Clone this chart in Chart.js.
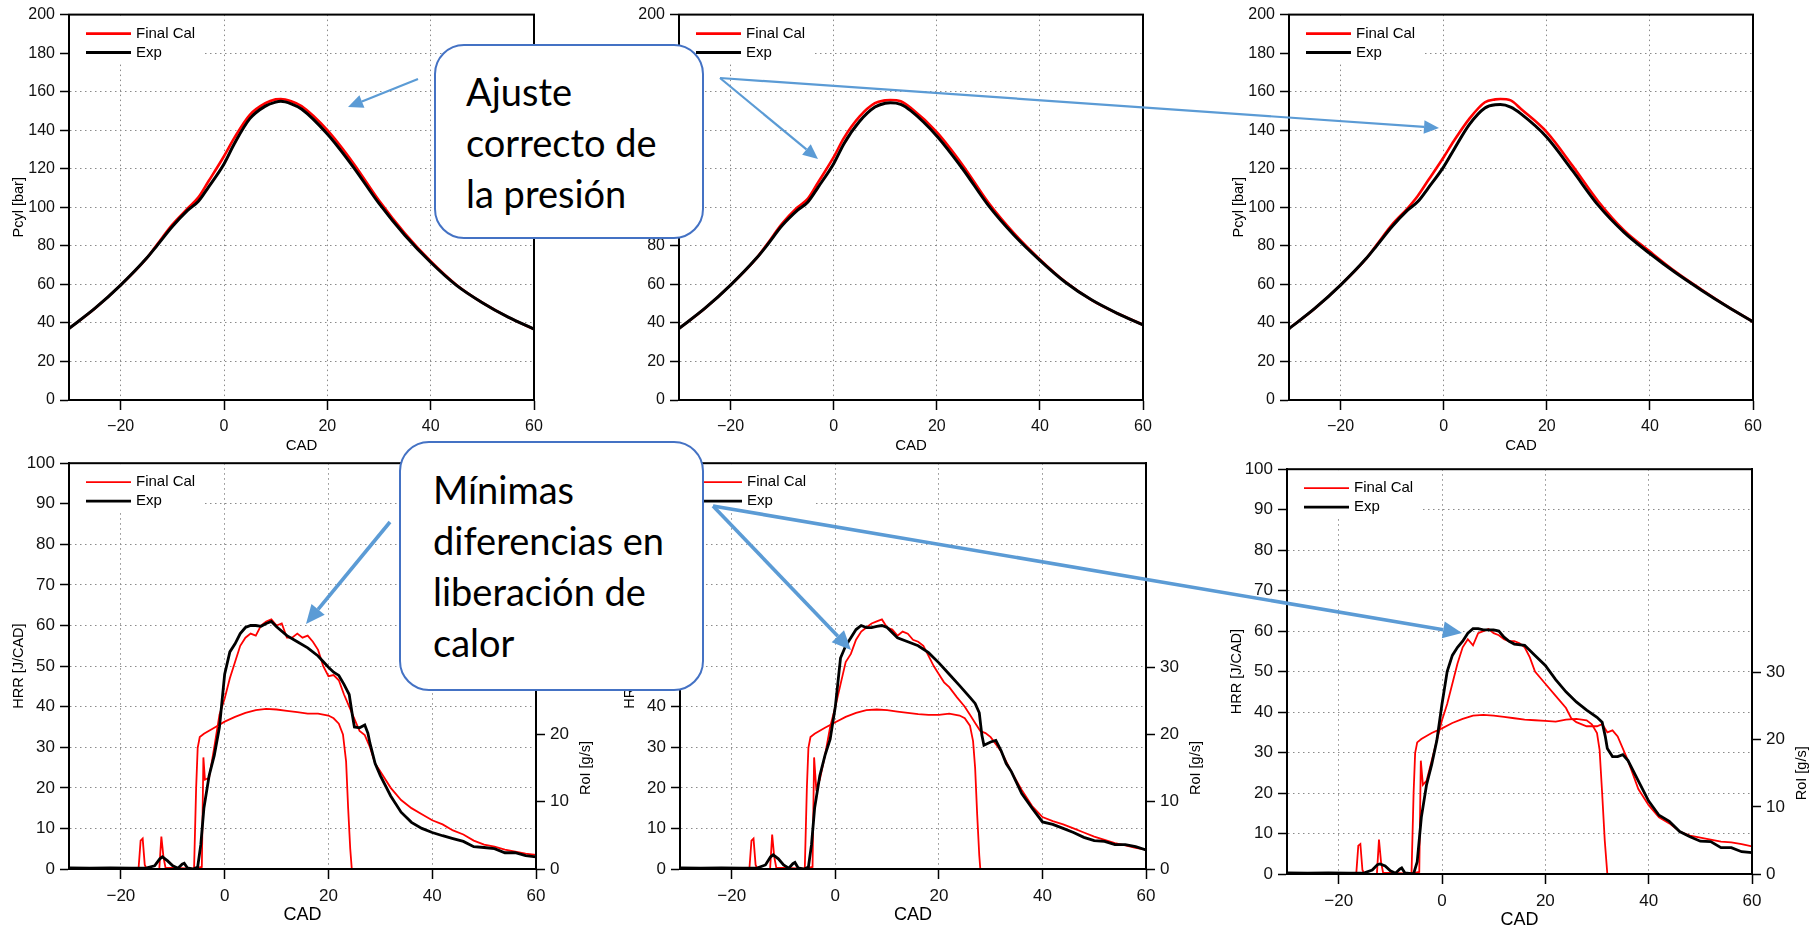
<!DOCTYPE html>
<html>
<head>
<meta charset="utf-8">
<script src="https://cdn.jsdelivr.net/npm/chart.js@4.4.0/dist/chart.umd.min.js"></script>
<style>
html, body { margin: 0; padding: 0; background: #fff; width: 1820px; height: 927px; overflow: hidden; position: relative; }
canvas { position: absolute; }
.callout { position: absolute; box-sizing: border-box; border: 2px solid #4472C4; border-radius: 30px; background: #fff;
  font-family: Lato, "Noto Sans", sans-serif; font-size: 38px; line-height: 51px; color: #000; white-space: nowrap; }
#arrows { position: absolute; left: 0; top: 0; }
</style>
</head>
<body>
<canvas id="pA" width="554" height="456" style="left:0px;top:0px"></canvas>
<canvas id="pB" width="553" height="456" style="left:610px;top:0px"></canvas>
<canvas id="pC" width="553" height="456" style="left:1220px;top:0px"></canvas>
<canvas id="hD" width="606" height="479" style="left:0px;top:448px"></canvas>
<canvas id="hE" width="605" height="479" style="left:611px;top:448px"></canvas>
<canvas id="hF" width="604" height="478" style="left:1218px;top:454px"></canvas>
<svg id="arrows" width="1820" height="927"></svg>
<div class="callout" style="left:434px;top:44px;width:270px;height:195px;padding:20px 0 0 30px">Ajuste<br>correcto de<br>la presión</div>
<div class="callout" style="left:399px;top:441px;width:305px;height:250px;padding:21px 0 0 32px">Mínimas<br>diferencias en<br>liberación de<br>calor</div>
<script>
// labels
const calLabel = 'Final Cal';
const expLabel = 'Exp';
const xTicks = [-20, 0, 20, 40, 60];
const roiTicks = [0, 10, 20, 30];

// cylinder pressure [bar] vs CAD (top row)
const cadP = [-30, -25, -20, -15, -13, -10, -7, -5, -3, 0, 2, 5, 8, 10, 11, 13, 15, 20, 25, 30, 35, 40, 45, 50, 55, 60];
const pCalA = [37.1, 47.5, 59.6, 73.5, 80.5, 91, 99.5, 105, 113.5, 126.5, 136, 148, 154, 156, 156.2, 155, 152.5, 140, 123, 103.5, 86.5, 72, 59.7, 50.5, 43, 36.8];
const pExpA = [37.1, 47.5, 59.6, 73.5, 80, 90, 98.5, 103, 110.5, 122.5, 133, 146, 152.5, 154.6, 155, 153.7, 151, 138, 121, 102, 85.5, 71.5, 59.5, 50.5, 43, 36.8];
const pCalB = [37.1, 47.5, 59.6, 73.5, 80.5, 91.5, 100, 104.5, 113, 126, 136, 147, 154, 155.5, 155.7, 155, 151.5, 139, 122, 102.5, 86.5, 73, 61.2, 52, 45, 39];
const pExpB = [37.1, 47.5, 59.6, 73.5, 80, 90.5, 98.5, 102.8, 110.5, 122.6, 133, 144.5, 152, 154, 154.2, 153.4, 150, 137, 120, 101, 85.5, 72.5, 61, 52, 45, 39];
const pCalC = [37, 47.5, 59.6, 73.5, 80.5, 91, 99.5, 106, 114, 126, 134.5, 146, 154.5, 156, 156.2, 155.5, 151, 139, 121.5, 103, 88, 77, 66.5, 57.3, 48.6, 40.6];
const pExpC = [37, 47.5, 59.6, 73.5, 80, 90, 98.5, 103, 110, 121, 130, 143, 151.5, 153.2, 153.3, 152, 148.5, 136.4, 119, 101, 87, 76, 66, 57, 48.5, 40.6];

// heat release rate [J/CAD] and rate of injection [g/s] vs CAD (bottom row)
const hrrCalD = [[-30, 0], [-16.6, 0], [-16.2, 7], [-15.8, 7.5], [-15.4, 1], [-15, 0], [-12.6, 0], [-12.2, 8], [-11.8, 3], [-11.4, 0.3], [-10, 0.3], [-6, 0.1], [-4.4, 0.5], [-4.1, 27.5], [-3.8, 22], [-3, 22.5], [-2, 30], [-1, 38], [0, 42], [1, 47], [2, 51], [3, 55], [4, 57], [5, 58], [6, 57.5], [7, 60], [8, 61], [9, 61.5], [10, 60], [11, 60.5], [12, 57], [13, 57], [14, 58], [15, 57], [16, 57.5], [17, 56], [18, 54], [19, 50], [20, 47.5], [21, 47.8], [22, 46.5], [23, 43], [24, 40], [25, 37], [26, 34], [27, 33], [28, 30], [29, 26], [30, 24], [32, 20], [34, 17], [36, 15], [38, 13.5], [40, 12], [42, 11], [44, 9.5], [46, 8.5], [48, 7], [50, 6], [52, 5.5], [54, 4.8], [56, 4.3], [58, 3.8], [60, 3.5]];
const hrrExpD = [[-30, 0.3], [-26, 0.2], [-22, 0.3], [-18, 0.2], [-15, 0.3], [-13.5, 0.8], [-12.5, 2.5], [-12, 3], [-11, 2], [-10, 0.8], [-9, 0.2], [-8.2, 1.2], [-7.8, 1.4], [-7.2, 0.3], [-6, 0], [-5.2, 0.5], [-4.6, 6], [-4, 15], [-3, 23], [-2, 28], [-1, 35], [0, 48], [1, 53.5], [2, 55.5], [3, 58], [4, 59.5], [5, 60], [6, 60], [7, 59.8], [8, 60.5], [9, 61], [10, 59.7], [12, 57.5], [14, 56], [16, 54.5], [18, 52.5], [20, 49.7], [21, 48.5], [22, 47.7], [23, 45.5], [24, 43], [24.6, 38], [25, 35], [26, 34.8], [27, 35.5], [27.6, 33.5], [28, 31], [29, 26], [30, 23], [32, 18], [34, 14], [36, 11.5], [38, 10], [40, 9], [42, 8.2], [44, 7.5], [46, 6.8], [48, 5.5], [50, 5.3], [52, 5], [54, 4], [56, 4], [58, 3.3], [60, 3]];
const roiD = [[-30, 0], [-5.9, 0], [-5.5, 12], [-5.2, 18], [-4.8, 19.6], [-4, 20.1], [-2, 21], [0, 21.9], [2, 22.6], [4, 23.2], [6, 23.6], [8, 23.8], [10, 23.7], [12, 23.5], [14, 23.3], [16, 23.1], [18, 23.1], [20, 22.8], [21, 22.4], [22, 21.6], [22.8, 20], [23.4, 16], [23.8, 9], [24.2, 3], [24.5, 0], [60, 0]];

const hrrCalE = [[-30, 0], [-16.6, 0], [-16.2, 7], [-15.8, 7.5], [-15.4, 1], [-15, 0], [-12.6, 0], [-12.2, 8.5], [-11.8, 3], [-11.4, 0.3], [-10, 0.3], [-6, 0.1], [-4.4, 0.5], [-4.1, 27.5], [-3.7, 20], [-3, 22], [-2, 28], [-1, 35], [0, 40], [1, 45.5], [2, 51], [3, 53], [4, 56.5], [5, 58.5], [6, 59.5], [7, 60.5], [8, 61], [9, 61.5], [10, 59.5], [11, 59], [12, 57.5], [13, 58.5], [14, 58], [15, 56.5], [16, 56], [17, 55], [18, 52.5], [19, 50], [20, 48], [21, 46], [22, 44.8], [23.5, 42.3], [25, 40], [26, 38], [27, 36], [28, 34], [29, 33.5], [30, 32.5], [32, 29], [34, 24], [36, 19.5], [38, 15.5], [40, 12.8], [42, 11.8], [44, 11], [46, 10], [48, 9], [50, 8], [52, 7.2], [54, 6.4], [56, 5.8], [58, 5.2], [60, 4.8]];
const hrrExpE = [[-30, 0.3], [-26, 0.2], [-22, 0.3], [-18, 0.2], [-15, 0.3], [-13.5, 1], [-12.5, 3], [-12, 3.5], [-11, 2.5], [-10, 1], [-9, 0.2], [-8.2, 1.3], [-7.8, 1.6], [-7.2, 0.3], [-6, 0], [-5.2, 0.5], [-4.6, 6], [-4, 15], [-3, 23], [-2, 28], [-1, 32], [0, 40], [1, 52], [2, 55], [3, 57], [4, 59], [5, 60], [6, 59.5], [7, 59.5], [8, 59.8], [9, 60], [10, 59.5], [12, 57], [14, 56], [16, 55], [18, 53.3], [20, 50.8], [22, 48], [24, 45.2], [26, 42.3], [27, 40.8], [27.8, 38.5], [28.3, 33], [28.7, 30.5], [30, 31.3], [31, 31.7], [32, 29.2], [33, 26], [34, 24], [36, 18.6], [38, 15], [40, 11.6], [42, 11], [44, 10], [46, 9], [48, 7.8], [50, 7], [52, 6.8], [54, 6], [56, 6], [58, 5.5], [60, 4.7]];
const roiE = [[-30, 0], [-5.9, 0], [-5.5, 12], [-5.2, 18], [-4.8, 19.6], [-4, 20.1], [-2, 21], [0, 21.8], [2, 22.6], [4, 23.2], [6, 23.6], [8, 23.7], [10, 23.6], [12, 23.4], [14, 23.2], [16, 23], [18, 22.9], [20, 22.9], [22, 23.1], [24, 22.8], [25, 22.4], [26, 21.3], [26.6, 19], [27, 15], [27.4, 8], [27.8, 2], [28, 0], [60, 0]];

const hrrCalF = [[-30, 0], [-16.6, 0], [-16.2, 7], [-15.8, 7.4], [-15.4, 1], [-15, 0], [-12.6, 0], [-12.2, 8.5], [-11.8, 3], [-11.4, 0.3], [-10, 0.3], [-6, 0.1], [-4.4, 0.5], [-4.1, 28], [-3.7, 22], [-3, 23], [-2, 28], [-1, 33], [0, 38], [1, 42], [2, 47], [3, 52], [4, 56], [5, 58], [6, 56.5], [7, 59.5], [8, 60], [9, 60.5], [10, 59.5], [11, 59], [12, 58], [13, 57.5], [14, 57.5], [15, 57], [16, 56], [17, 53.5], [18, 50], [20, 47], [22, 44], [24, 41], [25, 38.5], [26, 37.5], [28, 36.5], [30, 36.5], [31, 37], [32, 35], [33, 35.5], [34, 34], [36, 28], [38, 21], [40, 17], [42, 14], [44, 12.5], [46, 10.5], [48, 9.5], [50, 9], [52, 8.5], [54, 8], [56, 7.8], [58, 7.4], [60, 6.8]];
const hrrExpF = [[-30, 0.3], [-26, 0.2], [-22, 0.3], [-18, 0.2], [-15, 0.3], [-13.5, 1], [-12.5, 2.3], [-12, 2.5], [-11, 2], [-10, 0.8], [-9, 0.2], [-8.2, 1.2], [-7.8, 1.5], [-7.2, 0.3], [-5.5, 0], [-4.8, 3], [-4, 14], [-3, 22], [-2, 27], [-1, 33], [0, 42], [1, 50], [2, 54], [3, 56], [4, 57.5], [5, 59.5], [6, 60.6], [7, 60.6], [8, 60.3], [9, 60.3], [10, 60.3], [11, 60], [12, 58.5], [13, 57.5], [14, 56.8], [16, 56.5], [18, 54], [20, 51.5], [22, 48], [24, 45], [26, 42.5], [28, 40.5], [30, 38.7], [31, 37.5], [31.6, 34], [32, 31], [33, 29], [34, 29], [35, 29.5], [36, 28], [38, 23], [40, 18], [42, 14.5], [44, 13], [46, 10.5], [48, 9.2], [50, 8.1], [52, 8], [54, 6.5], [56, 6.5], [58, 5.5], [60, 5.3]];
const roiF = [[-30, 0], [-5.9, 0], [-5.5, 12], [-5.2, 18], [-4.8, 19.6], [-4, 20.1], [-2, 21], [0, 21.7], [2, 22.5], [4, 23.1], [6, 23.6], [8, 23.7], [10, 23.6], [12, 23.4], [14, 23.2], [16, 23], [18, 22.9], [20, 22.8], [22, 22.7], [24, 23], [26, 23.1], [28, 22.9], [29, 22.3], [30, 21], [30.5, 18.5], [31, 12], [31.5, 5], [32, 0], [60, 0]];

Chart.defaults.font.family = '"Liberation Sans", Arial, sans-serif';
Chart.defaults.color = '#000';

const fmt = v => v < 0 ? '\u2212' + Math.abs(v) : String(v);
const toPts = (xs, ys) => xs.map((x, i) => ({x: x, y: ys[i]}));
const pairPts = arr => arr.map(p => ({x: p[0], y: p[1]}));

// white box with legend entries inside the plot, top-left
const legendInside = {
  id: 'legendInside',
  beforeDatasetsDraw(chart) {
    const {ctx, chartArea: a} = chart;
    ctx.save();
    ctx.fillStyle = '#fff';
    ctx.fillRect(a.left + 1, a.top + 1, 132, 48);
    let y = a.top + 19;
    chart.data.datasets.forEach(ds => {
      if (!ds.label) return;
      ctx.strokeStyle = ds.borderColor;
      ctx.lineWidth = ds.borderWidth;
      ctx.beginPath();
      ctx.moveTo(a.left + 17, y);
      ctx.lineTo(a.left + 62, y);
      ctx.stroke();
      ctx.fillStyle = '#000';
      ctx.font = '15px "Liberation Sans", Arial, sans-serif';
      ctx.textBaseline = 'middle';
      ctx.fillText(ds.label, a.left + 67, y);
      y += 19;
    });
    ctx.restore();
  }
};

const frame = {
  id: 'frame',
  afterDatasetsDraw(chart) {
    const {ctx, chartArea: a} = chart;
    ctx.save();
    ctx.strokeStyle = '#000';
    ctx.lineWidth = 2;
    ctx.strokeRect(a.left, a.top, a.right - a.left, a.bottom - a.top);
    ctx.restore();
  }
};

const roiTitle = {
  id: 'roiTitle',
  afterDraw(chart) {
    const s = chart.scales.yR;
    if (!s) return;
    const {ctx, chartArea: a} = chart;
    ctx.save();
    ctx.translate(a.right + 50, s.getPixelForValue(15));
    ctx.rotate(-Math.PI / 2);
    ctx.font = '14.5px "Liberation Sans", Arial, sans-serif';
    ctx.fillStyle = '#000';
    ctx.textAlign = 'center';
    ctx.textBaseline = 'middle';
    ctx.fillText('RoI [g/s]', 0, 0);
    ctx.restore();
  }
};

function xScale(tickSize, titleSize, height) {
  return {
    type: 'linear', min: -30, max: 60,
    afterBuildTicks: s => { s.ticks = xTicks.map(v => ({value: v})); },
    afterFit: s => { s.height = height; },
    ticks: {callback: fmt, font: {size: tickSize}, padding: 7, color: '#111'},
    grid: {color: c => (c.tick && c.tick.value === 60) ? 'rgba(0,0,0,0)' : '#8a8a8a', lineWidth: 1,
      tickColor: '#000', tickLength: 10, tickWidth: 1.5},
    border: {color: '#000', width: 2, dash: [1.5, 3.5]},
    title: {display: true, text: 'CAD', font: {size: titleSize}, padding: {top: 0, bottom: 1}}
  };
}

function yScale(max, step, tickSize, title) {
  return {
    position: 'left', min: 0, max: max,
    afterFit: s => { s.width = 69; },
    ticks: {stepSize: step, font: {size: tickSize}, padding: 5, color: '#111'},
    grid: {color: c => (c.tick && (c.tick.value === 0 || c.tick.value === max)) ? 'rgba(0,0,0,0)' : '#8a8a8a', lineWidth: 1,
      tickColor: '#000', tickLength: 9, tickWidth: 1.5},
    border: {color: '#000', width: 2, dash: [1.5, 3.5]},
    title: {display: true, text: title, font: {size: 14.5}, padding: {top: 10, bottom: 0}}
  };
}

const baseOptions = {
  responsive: false, animation: false, events: [],
  plugins: {legend: {display: false}, tooltip: {enabled: false}}
};

// lower "order" is drawn on top, so Exp (black) sits over the red curves
function pressureChart(id, cal, exp) {
  new Chart(document.getElementById(id), {
    type: 'line',
    data: {datasets: [
      {label: calLabel, data: toPts(cadP, cal), borderColor: '#ff0000', borderWidth: 2.6, pointRadius: 0, cubicInterpolationMode: 'monotone', order: 2},
      {label: expLabel, data: toPts(cadP, exp), borderColor: '#000000', borderWidth: 3, pointRadius: 0, cubicInterpolationMode: 'monotone', order: 1}
    ]},
    options: Object.assign({}, baseOptions, {
      layout: {padding: {top: 14, left: 0, right: 20, bottom: 0}},
      scales: {x: xScale(16, 15, 56), y: yScale(200, 20, 16, 'Pcyl [bar]')}
    }),
    plugins: [legendInside, frame]
  });
}

function hrrChart(id, cal, exp, roi) {
  new Chart(document.getElementById(id), {
    type: 'line',
    data: {datasets: [
      {label: calLabel, data: pairPts(cal), borderColor: '#ff0000', borderWidth: 1.8, pointRadius: 0, yAxisID: 'y', order: 2},
      {label: expLabel, data: pairPts(exp), borderColor: '#000000', borderWidth: 2.8, pointRadius: 0, yAxisID: 'y', order: 1},
      {label: '', data: pairPts(roi), borderColor: '#ff0000', borderWidth: 1.8, pointRadius: 0, yAxisID: 'yR', order: 3}
    ]},
    options: Object.assign({}, baseOptions, {
      layout: {padding: {top: 14, left: 0, right: 0, bottom: 0}},
      scales: {
        x: xScale(17, 18, 58),
        y: yScale(100, 10, 17, 'HRR [J/CAD]'),
        yR: {
          position: 'right', min: 0, max: 60.3,
          afterBuildTicks: s => { s.ticks = roiTicks.map(v => ({value: v})); },
          afterFit: s => { s.width = 70; },
          ticks: {font: {size: 17}, padding: 5, color: '#111'},
          grid: {drawOnChartArea: false, tickColor: '#000', tickLength: 9, tickWidth: 1.5},
          border: {color: '#000', width: 2}
        }
      }
    }),
    plugins: [legendInside, frame, roiTitle]
  });
}

pressureChart('pA', pCalA, pExpA);
pressureChart('pB', pCalB, pExpB);
pressureChart('pC', pCalC, pExpC);
hrrChart('hD', hrrCalD, hrrExpD, roiD);
hrrChart('hE', hrrCalE, hrrExpE, roiE);
hrrChart('hF', hrrCalF, hrrExpF, roiF);

// callout arrows
const arrows = [
  {from: [418, 79], to: [348, 107], w: 2.2, head: 15},
  {from: [720, 78], to: [818, 159], w: 2.2, head: 15},
  {from: [720, 78], to: [1439, 128], w: 2.2, head: 15},
  {from: [390, 522], to: [306, 624], w: 3.6, head: 19},
  {from: [713, 506], to: [851, 650], w: 3.6, head: 19},
  {from: [713, 506], to: [1462, 633], w: 3.6, head: 19}
];
const svg = document.getElementById('arrows');
let svgHtml = '';
arrows.forEach(a => {
  const [x1, y1] = a.from, [x2, y2] = a.to;
  const len = Math.hypot(x2 - x1, y2 - y1);
  const ux = (x2 - x1) / len, uy = (y2 - y1) / len;
  const bx = x2 - ux * a.head, by = y2 - uy * a.head;
  const hw = a.head * 0.45;
  svgHtml += '<line x1="' + x1 + '" y1="' + y1 + '" x2="' + bx + '" y2="' + by + '" stroke="#5B9BD5" stroke-width="' + a.w + '"/>';
  svgHtml += '<polygon fill="#5B9BD5" points="' + x2 + ',' + y2 + ' ' + (bx - uy * hw) + ',' + (by + ux * hw) + ' ' + (bx + uy * hw) + ',' + (by - ux * hw) + '"/>';
});
svg.innerHTML = svgHtml;
</script>
</body>
</html>
